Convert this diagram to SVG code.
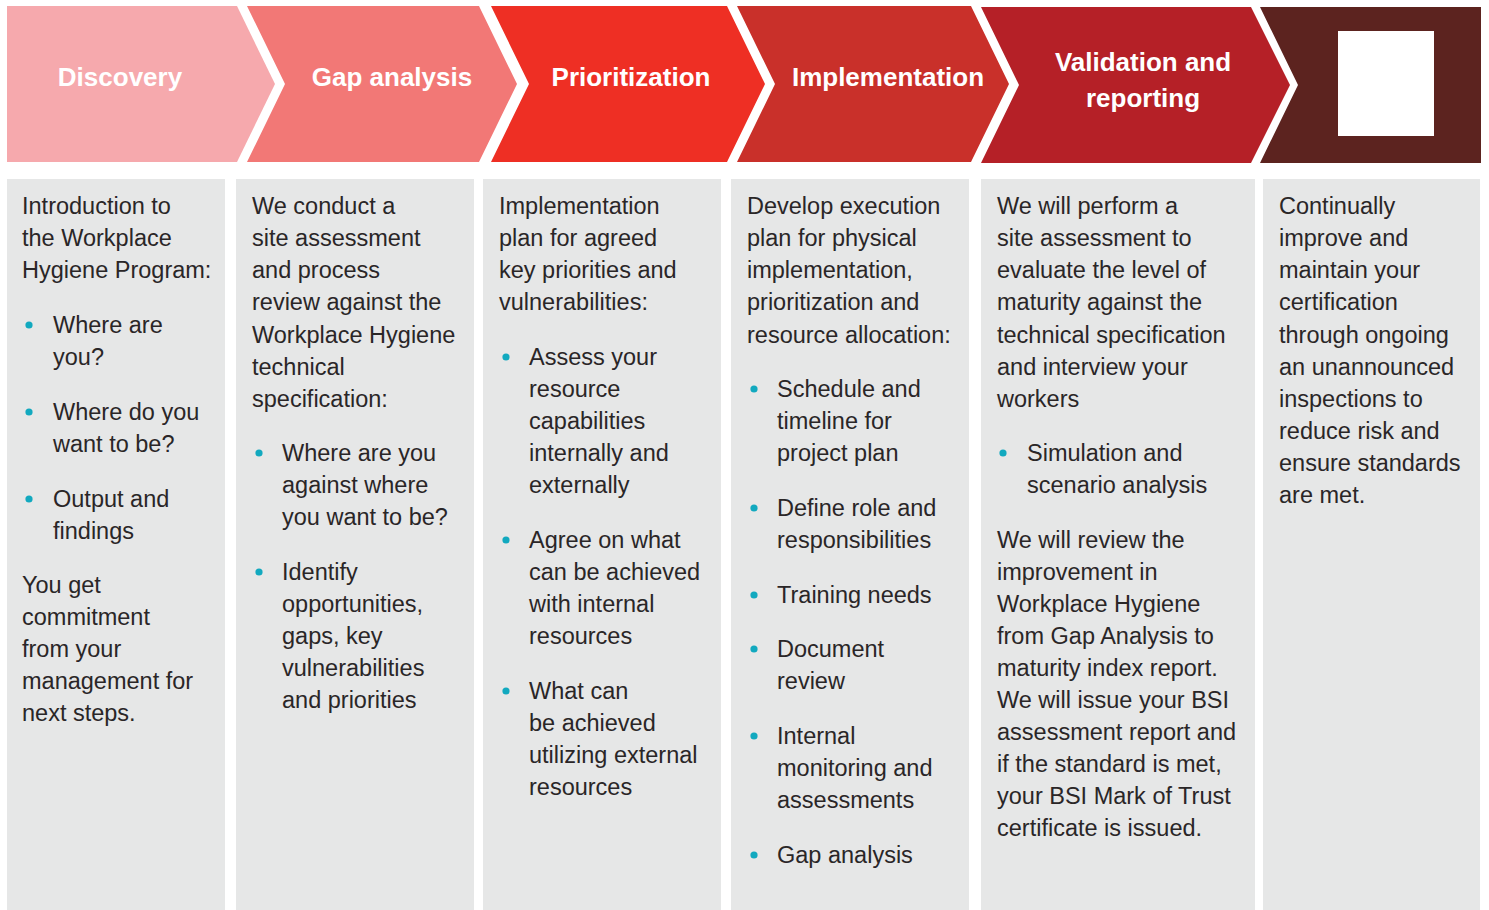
<svg xmlns="http://www.w3.org/2000/svg" width="1489" height="910" viewBox="0 0 1489 910">
<style>
.hd{font-family:"Liberation Sans",Arial,sans-serif;font-weight:bold;font-size:26px;fill:#fff;text-anchor:middle}
.bd{font-family:"Liberation Sans",Arial,sans-serif;font-size:23.5px;fill:#2a2627}
.pn{fill:#e6e7e7}
.bl{fill:#12a9bf}
</style>
<rect width="1489" height="910" fill="#fff"/>
<g id="headers">
<g id="h1"><polygon points="7,6 237,6 275,84 237,162 7,162" fill="#f6a9ad"/><text class="hd" x="120" y="86">Discovery</text></g>
<g id="h2"><polygon points="247,6 479,6 517,84 479,162 247,162 285,84" fill="#f27876"/><text class="hd" x="392" y="86">Gap analysis</text></g>
<g id="h3"><polygon points="491,6 727,6 765,84 727,162 491,162 529,84" fill="#ee2f24"/><text class="hd" x="631" y="86">Prioritization</text></g>
<g id="h4"><polygon points="737,6 971,6 1009,84 971,162 737,162 775,84" fill="#c9302a"/><text class="hd" x="888" y="86">Implementation</text></g>
<g id="h5"><polygon points="981,7 1251,7 1290,85 1251,163 981,163 1019,85" fill="#b52027"/><text class="hd" x="1143" y="71">Validation and</text><text class="hd" x="1143" y="107">reporting</text></g>
<g id="h6"><polygon points="1260,7 1481,7 1481,163 1260,163 1298,85" fill="#5c231f"/><rect x="1338" y="31" width="96" height="105" fill="#fff"/></g>
</g>
<g id="p1">
<rect class="pn" x="7" y="179" width="218" height="731"/>
<text class="bd" x="22" y="214">Introduction to</text>
<text class="bd" x="22" y="246">the Workplace</text>
<text class="bd" x="22" y="278">Hygiene Program:</text>
<circle class="bl" cx="29" cy="325" r="3.6"/>
<text class="bd" x="53" y="333">Where are</text>
<text class="bd" x="53" y="365">you?</text>
<circle class="bl" cx="29" cy="412" r="3.6"/>
<text class="bd" x="53" y="420">Where do you</text>
<text class="bd" x="53" y="452">want to be?</text>
<circle class="bl" cx="29" cy="499" r="3.6"/>
<text class="bd" x="53" y="507">Output and</text>
<text class="bd" x="53" y="539">findings</text>
<text class="bd" x="22" y="593">You get</text>
<text class="bd" x="22" y="625">commitment</text>
<text class="bd" x="22" y="657">from your</text>
<text class="bd" x="22" y="689">management for</text>
<text class="bd" x="22" y="721">next steps.</text>
</g>
<g id="p2">
<rect class="pn" x="236" y="179" width="238" height="731"/>
<text class="bd" x="252" y="214">We conduct a</text>
<text class="bd" x="252" y="246">site assessment</text>
<text class="bd" x="252" y="278">and process</text>
<text class="bd" x="252" y="310">review against the</text>
<text class="bd" x="252" y="343">Workplace Hygiene</text>
<text class="bd" x="252" y="375">technical</text>
<text class="bd" x="252" y="407">specification:</text>
<circle class="bl" cx="259" cy="453" r="3.6"/>
<text class="bd" x="282" y="461">Where are you</text>
<text class="bd" x="282" y="493">against where</text>
<text class="bd" x="282" y="525">you want to be?</text>
<circle class="bl" cx="259" cy="572" r="3.6"/>
<text class="bd" x="282" y="580">Identify</text>
<text class="bd" x="282" y="612">opportunities,</text>
<text class="bd" x="282" y="644">gaps, key</text>
<text class="bd" x="282" y="676">vulnerabilities</text>
<text class="bd" x="282" y="708">and priorities</text>
</g>
<g id="p3">
<rect class="pn" x="483" y="179" width="238" height="731"/>
<text class="bd" x="499" y="214">Implementation</text>
<text class="bd" x="499" y="246">plan for agreed</text>
<text class="bd" x="499" y="278">key priorities and</text>
<text class="bd" x="499" y="310">vulnerabilities:</text>
<circle class="bl" cx="506" cy="357" r="3.6"/>
<text class="bd" x="529" y="365">Assess your</text>
<text class="bd" x="529" y="397">resource</text>
<text class="bd" x="529" y="429">capabilities</text>
<text class="bd" x="529" y="461">internally and</text>
<text class="bd" x="529" y="493">externally</text>
<circle class="bl" cx="506" cy="540" r="3.6"/>
<text class="bd" x="529" y="548">Agree on what</text>
<text class="bd" x="529" y="580">can be achieved</text>
<text class="bd" x="529" y="612">with internal</text>
<text class="bd" x="529" y="644">resources</text>
<circle class="bl" cx="506" cy="691" r="3.6"/>
<text class="bd" x="529" y="699">What can</text>
<text class="bd" x="529" y="731">be achieved</text>
<text class="bd" x="529" y="763">utilizing external</text>
<text class="bd" x="529" y="795">resources</text>
</g>
<g id="p4">
<rect class="pn" x="731" y="179" width="238" height="731"/>
<text class="bd" x="747" y="214">Develop execution</text>
<text class="bd" x="747" y="246">plan for physical</text>
<text class="bd" x="747" y="278">implementation,</text>
<text class="bd" x="747" y="310">prioritization and</text>
<text class="bd" x="747" y="343">resource allocation:</text>
<circle class="bl" cx="754" cy="389" r="3.6"/>
<text class="bd" x="777" y="397">Schedule and</text>
<text class="bd" x="777" y="429">timeline for</text>
<text class="bd" x="777" y="461">project plan</text>
<circle class="bl" cx="754" cy="508" r="3.6"/>
<text class="bd" x="777" y="516">Define role and</text>
<text class="bd" x="777" y="548">responsibilities</text>
<circle class="bl" cx="754" cy="595" r="3.6"/>
<text class="bd" x="777" y="603">Training needs</text>
<circle class="bl" cx="754" cy="649" r="3.6"/>
<text class="bd" x="777" y="657">Document</text>
<text class="bd" x="777" y="689">review</text>
<circle class="bl" cx="754" cy="736" r="3.6"/>
<text class="bd" x="777" y="744">Internal</text>
<text class="bd" x="777" y="776">monitoring and</text>
<text class="bd" x="777" y="808">assessments</text>
<circle class="bl" cx="754" cy="855" r="3.6"/>
<text class="bd" x="777" y="863">Gap analysis</text>
</g>
<g id="p5">
<rect class="pn" x="981" y="179" width="274" height="731"/>
<text class="bd" x="997" y="214">We will perform a</text>
<text class="bd" x="997" y="246">site assessment to</text>
<text class="bd" x="997" y="278">evaluate the level of</text>
<text class="bd" x="997" y="310">maturity against the</text>
<text class="bd" x="997" y="343">technical specification</text>
<text class="bd" x="997" y="375">and interview your</text>
<text class="bd" x="997" y="407">workers</text>
<circle class="bl" cx="1003" cy="453" r="3.6"/>
<text class="bd" x="1027" y="461">Simulation and</text>
<text class="bd" x="1027" y="493">scenario analysis</text>
<text class="bd" x="997" y="548">We will review the</text>
<text class="bd" x="997" y="580">improvement in</text>
<text class="bd" x="997" y="612">Workplace Hygiene</text>
<text class="bd" x="997" y="644">from Gap Analysis to</text>
<text class="bd" x="997" y="676">maturity index report.</text>
<text class="bd" x="997" y="708">We will issue your BSI</text>
<text class="bd" x="997" y="740">assessment report and</text>
<text class="bd" x="997" y="772">if the standard is met,</text>
<text class="bd" x="997" y="804">your BSI Mark of Trust</text>
<text class="bd" x="997" y="836">certificate is issued.</text>
</g>
<g id="p6">
<rect class="pn" x="1263" y="179" width="217" height="731"/>
<text class="bd" x="1279" y="214">Continually</text>
<text class="bd" x="1279" y="246">improve and</text>
<text class="bd" x="1279" y="278">maintain your</text>
<text class="bd" x="1279" y="310">certification</text>
<text class="bd" x="1279" y="343">through ongoing</text>
<text class="bd" x="1279" y="375">an unannounced</text>
<text class="bd" x="1279" y="407">inspections to</text>
<text class="bd" x="1279" y="439">reduce risk and</text>
<text class="bd" x="1279" y="471">ensure standards</text>
<text class="bd" x="1279" y="503">are met.</text>
</g>
<g id="connectors"/>
</svg>
